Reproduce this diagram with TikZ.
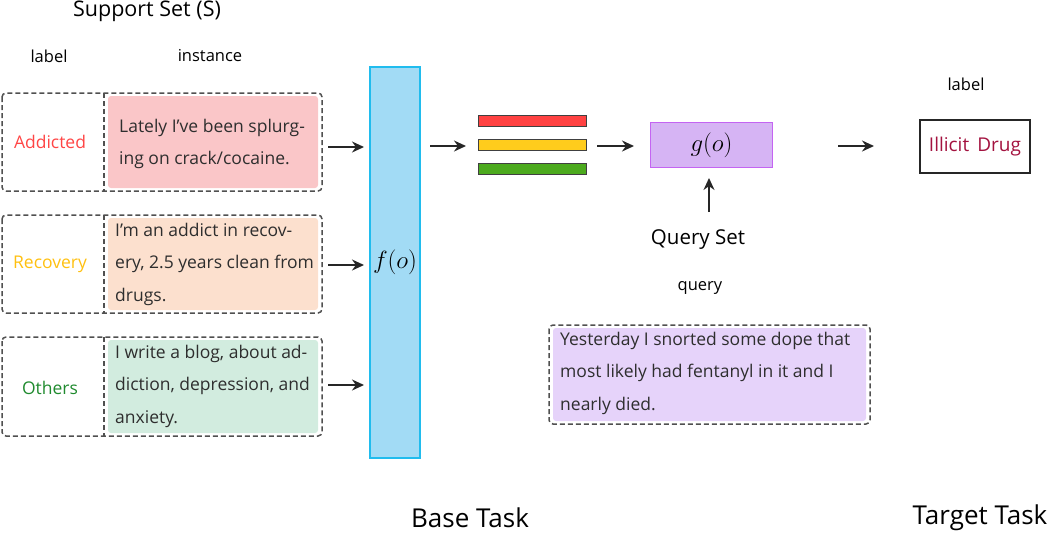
\documentclass[tikz,border=0pt]{standalone}
\usepackage{fontspec}
\setmainfont{Open Sans}
\usetikzlibrary{arrows.meta}
\definecolor{txt}{HTML}{2E2E2E}
\definecolor{dashc}{HTML}{505050}
\definecolor{pinkf}{HTML}{FAC6C8}
\definecolor{peachf}{HTML}{FCE0CE}
\definecolor{mintf}{HTML}{D2ECDF}
\definecolor{lavf}{HTML}{E6D3FA}
\definecolor{addc}{HTML}{FF4545}
\definecolor{recc}{HTML}{FFC010}
\definecolor{othc}{HTML}{1F8A2E}
\definecolor{barblue}{HTML}{A2DBF5}
\definecolor{barblueb}{HTML}{20BCEE}
\definecolor{gfill}{HTML}{D6B4F4}
\definecolor{gbord}{HTML}{C464F2}
\definecolor{redb}{HTML}{FF4242}
\definecolor{yelb}{HTML}{FFCC1C}
\definecolor{grnb}{HTML}{4CAA1E}
\definecolor{drugc}{HTML}{A3123F}
\tikzset{
  outerbox/.style={draw=dashc, dash pattern=on 5pt off 3pt, line width=1.5pt, rounded corners=4pt},
  fillbox/.style={rounded corners=3pt, draw=none},
  divider/.style={draw=dashc, dash pattern=on 5pt off 3pt, line width=1.5pt},
  arr/.style={-{Stealth[length=12pt,width=11pt]}, line width=1.6pt, draw=black!85},
  inst/.style={anchor=west, align=left, text=txt, font=\fontsize{17.5}{32.5}\selectfont, inner sep=0pt},
  lab/.style={font=\fontsize{17.5}{20}\selectfont, inner sep=0pt},
  head/.style={font=\fontsize{16.5}{20}\selectfont, text=black, inner sep=0pt},
  featbar/.style={draw=black!75, line width=1.3pt},
  big/.style={font=\fontsize{26}{30}\selectfont, text=black, inner sep=0pt}
}
\begin{document}
\begin{tikzpicture}[x=1pt,y=-1pt]
\useasboundingbox (0,0) rectangle (1050,533);
% headers
\node[head, font=\fontsize{21.5}{24}\selectfont] (sst) at (147,11) {Support Set (S)};
\node[head] (lbl) at (49,56) {label};
\node[head] (ins) at (210,56) {instance};
% box 1
\fill[pinkf, fillbox] (108,96) rectangle (318,188);
\draw[outerbox] (2,93) rectangle (322,191);
\draw[divider] (104,93) -- (104,191);
\node[lab, text=addc] (l1) at (50,142) {Addicted};
\node[inst] (i1) at (119,144) {Lately I've been splurg-\\ing on crack/cocaine.};
% box 2
\fill[peachf, fillbox] (108,218) rectangle (318,310);
\draw[outerbox] (2,215) rectangle (322,313);
\draw[divider] (104,215) -- (104,313);
\node[lab, text=recc] (l2) at (50,264) {Recovery};
\node[inst] (i2) at (115,264) {I'm an addict in recov-\\ery, 2.5 years clean from\\drugs.};
% box 3
\fill[mintf, fillbox] (108,340) rectangle (318,433);
\draw[outerbox] (2,337) rectangle (322,436);
\draw[divider] (104,337) -- (104,436);
\node[lab, text=othc] (l3) at (50,388) {Others};
\node[inst] (i3) at (115,386) {I write a blog, about ad-\\diction, depression, and\\anxiety.};
% encoder
\node[draw=barblueb, fill=barblue, line width=1.6pt, minimum width=50pt, minimum height=391pt, inner sep=0pt] (f) at (395,262.5) {};
\node[font=\fontsize{27}{30}\selectfont, inner sep=0pt] (flab) at (395,262) {$f(o)$};
\coordinate (a1s) at (328,147); \coordinate (a1e) at (364,147);
\coordinate (a2s) at (328,265); \coordinate (a2e) at (364,265);
\coordinate (a3s) at (328,385); \coordinate (a3e) at (364,385);
\draw[arr] (a1s) -- (a1e);
\draw[arr] (a2s) -- (a2e);
\draw[arr] (a3s) -- (a3e);
% feature bars
\node[featbar, fill=redb, minimum width=108pt, minimum height=11pt, inner sep=0pt] (rb) at (532.5,121) {};
\node[featbar, fill=yelb, minimum width=108pt, minimum height=11pt, inner sep=0pt] (yb) at (532.5,145) {};
\node[featbar, fill=grnb, minimum width=108pt, minimum height=11pt, inner sep=0pt] (gb) at (532.5,169) {};
\coordinate (b1s) at (430,146); \coordinate (b1e) at (466,146);
\draw[arr] (b1s) -- (b1e);
\coordinate (b2s) at (597,146); \coordinate (b2e) at (634,146);
\draw[arr] (b2s) -- (b2e);
% g box
\node[draw=gbord, fill=gfill, line width=1.6pt, minimum width=122pt, minimum height=45pt, inner sep=0pt, font=\fontsize{26}{30}\selectfont] (g) at (711.5,145) {$g(o)$};
\node[head, font=\fontsize{20.5}{24}\selectfont] (qs) at (698,240) {Query Set};
\coordinate (qa) at (709,212);
\coordinate (qb) at (709,178);
\draw[arr] (qa) -- (qb);
\node[head] (qlab) at (700,288) {query};
% query box
\fill[lavf, fillbox] (553,328) rectangle (866,421);
\draw[outerbox] (549,325) rectangle (870,424);
\node[inst] (qt) at (560,373) {Yesterday I snorted some dope that\\most likely had fentanyl in it and I\\nearly died.};
% output
\coordinate (c1s) at (838,146); \coordinate (c1e) at (874,146);
\draw[arr] (c1s) -- (c1e);
\node[head] (tl) at (966,84) {label};
\node[draw=black!85, line width=1.5pt, minimum width=110pt, minimum height=53pt, inner sep=0pt, font=\fontsize{19}{22}\selectfont, text=drugc] (drug) at (975,146.5) {Illicit\, Drug};
% bottom
\node[big] (bt) at (470,518) {Base Task};
\node[big] (tt) at (980,518) {Target Task};
\end{tikzpicture}
\end{document}
